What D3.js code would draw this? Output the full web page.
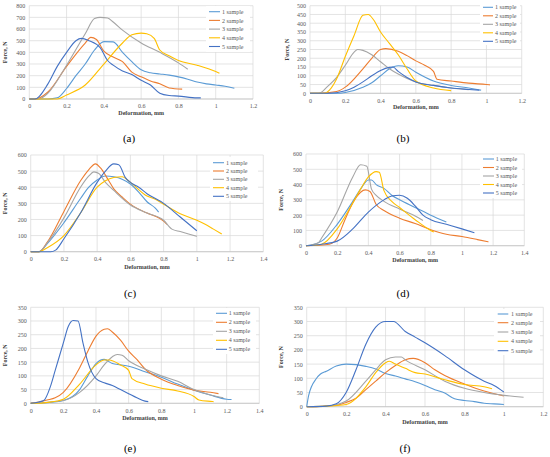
<!DOCTYPE html>
<html><head><meta charset="utf-8">
<script src="https://cdn.jsdelivr.net/npm/d3@7"></script>
<style>body{margin:0;background:#fff}svg{display:block}</style>
</head><body><svg id="c" width="550" height="457"></svg>
<script>
const seriesNames = ["1 sample","2 sample","3 sample","4 sample","5 sample"];
const seriesColors = ["#5B9BD5","#ED7D31","#A5A5A5","#FFC000","#4472C4"];
const xTicksA = [0,0.2,0.4,0.6,0.8,1,1.2];
const xTicksC = [0,0.2,0.4,0.6,0.8,1,1.2,1.4];
const yTicksA = [0,100,200,300,400,500,600,700,800];
const yTicksB = [0,50,100,150,200,250,300,350,400,450,500];
const yTicksC = [0,100,200,300,400,500,600];
const yTicksE = [0,50,100,150,200,250,300,350];

// (a)
const a1 = [[0,0],[0.1,0],[0.15,10],[0.2,90],[0.25,200],[0.3,300],[0.35,420],[0.4,492],[0.45,490],[0.5,400],[0.55,320],[0.6,250],[0.65,225],[0.7,215],[0.75,205],[0.8,190],[0.85,170],[0.9,145],[0.95,130],[1.0,120],[1.05,110],[1.1,92]];
const a2 = [[0,0],[0.03,0],[0.1,60],[0.2,280],[0.3,480],[0.33,528],[0.36,510],[0.4,410],[0.45,360],[0.5,320],[0.55,230],[0.6,190],[0.65,155],[0.7,130],[0.75,95],[0.82,85]];
const a3 = [[0,0],[0.05,0],[0.1,50],[0.2,290],[0.3,560],[0.35,690],[0.38,700],[0.42,695],[0.45,660],[0.5,590],[0.6,480],[0.7,400],[0.8,310],[0.85,255]];
const a4 = [[0,0],[0.15,0],[0.2,35],[0.3,120],[0.4,300],[0.5,480],[0.55,550],[0.6,565],[0.63,560],[0.67,520],[0.7,420],[0.75,370],[0.8,330],[0.9,290],[1.0,235],[1.02,220]];
const a5 = [[0,0],[0.03,0],[0.1,130],[0.15,280],[0.2,400],[0.25,500],[0.28,520],[0.32,500],[0.38,440],[0.42,330],[0.45,290],[0.5,240],[0.55,210],[0.6,160],[0.65,120],[0.7,50],[0.75,30],[0.8,25],[0.9,10],[0.92,10]];
// (b)
const b1 = [[0,0],[0.15,0],[0.2,5],[0.3,35],[0.35,60],[0.4,100],[0.45,140],[0.5,157],[0.55,150],[0.6,120],[0.7,70],[0.8,45],[0.9,30],[0.97,18]];
const b2 = [[0,0],[0.05,0],[0.15,10],[0.2,35],[0.3,140],[0.35,200],[0.4,250],[0.43,255],[0.5,240],[0.55,215],[0.6,185],[0.65,160],[0.7,125],[0.72,80],[0.8,70],[0.9,58],[1.0,50],[1.02,48]];
const b3 = [[0,0],[0.05,0],[0.1,40],[0.15,90],[0.2,160],[0.25,235],[0.27,250],[0.3,245],[0.35,220],[0.4,180],[0.45,140],[0.5,110],[0.6,65],[0.7,45],[0.8,30],[0.9,20]];
const b4 = [[0,0],[0.08,0],[0.12,30],[0.15,80],[0.2,210],[0.25,330],[0.3,445],[0.33,450],[0.36,420],[0.4,350],[0.45,285],[0.5,220],[0.55,140],[0.6,70],[0.7,30],[0.8,15]];
const b5 = [[0,0],[0.1,0],[0.2,15],[0.25,35],[0.3,65],[0.35,100],[0.4,130],[0.45,148],[0.47,150],[0.5,125],[0.55,90],[0.6,65],[0.7,45],[0.8,30],[0.9,22],[0.96,18]];
// (c)
const c1 = [[0,0],[0.05,0],[0.1,50],[0.2,180],[0.3,330],[0.35,400],[0.4,445],[0.45,470],[0.5,465],[0.55,450],[0.6,420],[0.65,370],[0.7,310],[0.75,270],[0.77,245]];
const c2 = [[0,0],[0.05,0],[0.1,60],[0.2,250],[0.3,440],[0.35,510],[0.39,545],[0.42,520],[0.47,440],[0.5,390],[0.55,340],[0.6,295],[0.7,240],[0.75,220],[0.8,190],[0.82,170]];
const c3 = [[0,0],[0.05,0],[0.1,55],[0.2,210],[0.3,400],[0.35,470],[0.38,495],[0.41,485],[0.45,430],[0.5,380],[0.6,290],[0.7,240],[0.8,195],[0.85,140],[0.9,125],[0.95,110],[1.0,95]];
const c4 = [[0,0],[0.05,0],[0.1,25],[0.2,100],[0.3,240],[0.4,400],[0.45,440],[0.5,460],[0.55,465],[0.6,430],[0.7,345],[0.75,325],[0.8,295],[0.9,235],[1.0,195],[1.05,170],[1.1,140],[1.15,110]];
const c5 = [[0,0],[0.12,0],[0.15,10],[0.2,80],[0.3,240],[0.4,430],[0.45,500],[0.5,545],[0.53,540],[0.57,460],[0.6,430],[0.65,400],[0.7,360],[0.8,300],[0.9,215],[1.0,130]];
// (d)
const d1 = [[0,0],[0.1,30],[0.2,140],[0.3,290],[0.35,370],[0.4,430],[0.42,430],[0.45,400],[0.5,375],[0.55,330],[0.6,300],[0.7,250],[0.8,200],[0.9,155]];
const d2 = [[0,0],[0.15,10],[0.2,50],[0.25,170],[0.3,280],[0.35,350],[0.38,365],[0.41,355],[0.45,270],[0.5,230],[0.6,180],[0.7,145],[0.8,105],[0.9,75],[1.0,60],[1.1,40],[1.17,25]];
const d3s = [[0,0],[0.08,20],[0.1,50],[0.2,220],[0.3,450],[0.35,530],[0.39,520],[0.42,370],[0.45,330],[0.5,290],[0.6,240],[0.7,195],[0.75,165]];
const d4 = [[0,0],[0.1,10],[0.2,110],[0.3,280],[0.35,370],[0.4,450],[0.45,485],[0.47,480],[0.5,360],[0.55,290],[0.6,250],[0.7,170],[0.8,100],[0.82,90]];
const d5 = [[0,0],[0.1,10],[0.2,30],[0.3,110],[0.4,220],[0.5,300],[0.55,325],[0.6,330],[0.65,310],[0.7,260],[0.75,200],[0.8,170],[0.9,140],[1.0,110],[1.08,85]];
// (e)
const e1 = [[0,0],[0.1,2],[0.2,10],[0.3,50],[0.35,100],[0.4,145],[0.45,160],[0.5,145],[0.55,140],[0.6,135],[0.7,115],[0.8,95],[0.9,70],[1.0,48],[1.1,30],[1.2,15],[1.23,14]];
const e2 = [[0,0],[0.05,5],[0.1,12],[0.15,20],[0.2,40],[0.3,130],[0.35,190],[0.4,245],[0.45,270],[0.47,272],[0.5,260],[0.55,230],[0.6,190],[0.65,160],[0.7,125],[0.8,88],[0.9,65],[1.0,48],[1.1,40],[1.15,35]];
const e3 = [[0,0],[0.2,10],[0.3,40],[0.4,100],[0.45,140],[0.5,170],[0.53,178],[0.56,175],[0.6,155],[0.7,125],[0.8,100],[0.9,80],[1.0,50],[1.1,30],[1.18,20]];
const e4 = [[0,0],[0.05,0],[0.1,3],[0.2,15],[0.3,70],[0.4,140],[0.45,158],[0.48,158],[0.55,140],[0.6,120],[0.62,90],[0.7,70],[0.8,55],[0.9,45],[1.0,25],[1.03,12],[1.1,7],[1.12,6]];
const e5 = [[0,0],[0.05,5],[0.08,10],[0.12,60],[0.15,120],[0.2,220],[0.23,280],[0.26,302],[0.29,300],[0.32,220],[0.35,150],[0.4,90],[0.45,75],[0.5,65],[0.55,50],[0.6,35],[0.65,20],[0.7,8],[0.72,6]];
// (f)
const f1 = [[0,0],[0.01,40],[0.05,100],[0.07,115],[0.1,125],[0.15,143],[0.2,150],[0.25,148],[0.3,142],[0.35,133],[0.4,117],[0.45,108],[0.5,98],[0.55,88],[0.6,75],[0.65,60],[0.7,48],[0.75,28],[0.8,22],[0.85,18],[0.9,12],[0.95,10],[1.0,8]];
const f2 = [[0,0],[0.05,0],[0.1,3],[0.15,5],[0.2,15],[0.25,30],[0.3,60],[0.35,90],[0.4,120],[0.45,145],[0.5,165],[0.54,170],[0.6,155],[0.65,130],[0.7,110],[0.8,80],[0.9,55],[1.0,38]];
const f3 = [[0,0],[0.1,2],[0.2,20],[0.3,90],[0.35,130],[0.4,165],[0.45,175],[0.48,175],[0.5,165],[0.6,130],[0.7,90],[0.8,65],[0.9,50],[1.0,40],[1.1,33]];
const f4 = [[0,0],[0.1,2],[0.2,8],[0.3,70],[0.35,120],[0.4,155],[0.42,160],[0.45,150],[0.5,135],[0.55,120],[0.6,115],[0.7,95],[0.8,78],[0.9,70],[0.94,63]];
const f5 = [[0,0],[0.1,2],[0.15,10],[0.2,50],[0.25,130],[0.3,220],[0.35,280],[0.4,300],[0.44,300],[0.5,265],[0.55,245],[0.6,225],[0.7,180],[0.8,130],[0.9,90],[0.95,75],[1.0,52]];

const panels = [
 {cap:"(a)", data:[a1,a2,a3,a4,a5], xmax:1.2, xt:xTicksA, ymax:800, yt:yTicksA,
  L:29.3,R:253,T:5.7,B:99, lg:{x0:206,x1:250,y0:6,y1:52,lx:209,lx2:220,tx:222,ys:[11.7,20.4,29.1,37.8,46.5]}, xl:115, yl:5, capX:129, capY:142},
 {cap:"(b)", data:[b1,b2,b3,b4,b5], xmax:1.2, xt:xTicksA, ymax:500, yt:yTicksB,
  L:310,R:521.7,T:5.7,B:93.3, lg:{x0:480,x1:520,y0:3,y1:45,lx:483,lx2:493,tx:495,ys:[7.3,15.8,24.3,32.8,41.3]}, xl:109, yl:287, capX:403, capY:142},
 {cap:"(c)", data:[c1,c2,c3,c4,c5], xmax:1.4, xt:xTicksC, ymax:600, yt:yTicksC,
  L:30.7,R:263.3,T:155,B:251.7, lg:{x0:210,x1:258,y0:157,y1:201,lx:213,lx2:224,tx:226,ys:[162.7,171,179.3,187.7,196.3]}, xl:269, yl:5, capX:130, capY:297},
 {cap:"(d)", data:[d1,d2,d3s,d4,d5], xmax:1.4, xt:xTicksC, ymax:600, yt:yTicksC,
  L:306,R:524.3,T:154,B:245.7, lg:{x0:480,x1:522,y0:155,y1:198,lx:483,lx2:494,tx:495.7,ys:[159,167.5,176,184.5,193]}, xl:262, yl:281, capX:403, capY:297},
 {cap:"(e)", data:[e1,e2,e3,e4,e5], xmax:1.4, xt:xTicksC, ymax:350, yt:yTicksE,
  L:30.7,R:259.3,T:307.3,B:403.3, lg:{x0:213,x1:256,y0:308,y1:354,lx:216,lx2:227,tx:228.7,ys:[313.3,322.3,331.3,340.3,349.3]}, xl:420, yl:5, capX:130, capY:452},
 {cap:"(f)", data:[f1,f2,f3,f4,f5], xmax:1.2, xt:xTicksA, ymax:350, yt:yTicksE,
  L:306.7,R:543.3,T:307.3,B:406.7, lg:{x0:494,x1:540,y0:309,y1:355,lx:497.7,lx2:508.3,tx:511,ys:[314,322.7,332,341.3,350.7]}, xl:424, yl:281, capX:405, capY:452}
];

const svg = d3.select("#c");
const font = "'Liberation Serif','Times New Roman',serif";

panels.forEach(p => {
  const x = d3.scaleLinear().domain([0,p.xmax]).range([p.L,p.R]);
  const y = d3.scaleLinear().domain([0,p.ymax]).range([p.B,p.T]);
  const g = svg.append("g");
  // gridlines
  g.selectAll(".hg").data(p.yt).enter().append("line")
    .attr("x1",p.L).attr("x2",p.R).attr("y1",d=>y(d)).attr("y2",d=>y(d))
    .attr("stroke","#D9D9D9").attr("stroke-width",0.7);
  g.selectAll(".vg").data(p.xt).enter().append("line")
    .attr("x1",d=>x(d)).attr("x2",d=>x(d)).attr("y1",p.T).attr("y2",p.B)
    .attr("stroke","#D9D9D9").attr("stroke-width",0.7);
  // axis baseline
  g.append("line").attr("x1",p.L).attr("x2",p.R).attr("y1",p.B).attr("y2",p.B)
    .attr("stroke","#BFBFBF").attr("stroke-width",0.7);
  // tick labels
  const xa = d3.axisBottom(x).tickValues(p.xt).tickSize(0).tickPadding(5).tickFormat(d3.format("~g"));
  const ya = d3.axisLeft(y).tickValues(p.yt).tickSize(0).tickPadding(4).tickFormat(d3.format("d"));
  const gx = g.append("g").attr("transform",`translate(0,${p.B})`).call(xa);
  const gy = g.append("g").attr("transform",`translate(${p.L},0)`).call(ya);
  [gx,gy].forEach(a=>{ a.select(".domain").remove();
    a.selectAll("text").attr("font-family",font).attr("font-size",6).attr("fill","#595959"); });
  // lines
  const line = d3.line().x(d=>x(d[0])).y(d=>y(d[1])).curve(d3.curveMonotoneX);
  p.data.forEach((s,i)=>{
    g.append("path").attr("d",line(s)).attr("fill","none")
      .attr("stroke",seriesColors[i]).attr("stroke-width",1.1);
  });
  // legend
  const lg = p.lg;
  g.append("rect").attr("x",lg.x0).attr("y",lg.y0).attr("width",lg.x1-lg.x0).attr("height",lg.y1-lg.y0).attr("fill","#fff");
  seriesNames.forEach((n,i)=>{
    g.append("line").attr("x1",lg.lx).attr("x2",lg.lx2).attr("y1",lg.ys[i]).attr("y2",lg.ys[i])
      .attr("stroke",seriesColors[i]).attr("stroke-width",1.1);
    g.append("text").attr("x",lg.tx).attr("y",lg.ys[i]).attr("dy","0.35em")
      .attr("font-family",font).attr("font-size",6).attr("fill","#595959").text(n);
  });
  // axis titles
  g.append("text").attr("x",(p.L+p.R)/2).attr("y",p.xl).attr("text-anchor","middle")
    .attr("font-family",font).attr("font-size",6).attr("font-weight","bold").attr("fill","#404040").text("Deformation, mm");
  g.append("text").attr("transform",`translate(${p.yl},${(p.T+p.B)/2}) rotate(-90)`).attr("text-anchor","middle").attr("dy","0.35em")
    .attr("font-family",font).attr("font-size",6).attr("font-weight","bold").attr("fill","#404040").text("Force, N");
  // caption
  g.append("text").attr("x",p.capX).attr("y",p.capY).attr("text-anchor","middle")
    .attr("font-family",font).attr("font-size",11).attr("fill","#000").text(p.cap);
});
</script></body></html>
